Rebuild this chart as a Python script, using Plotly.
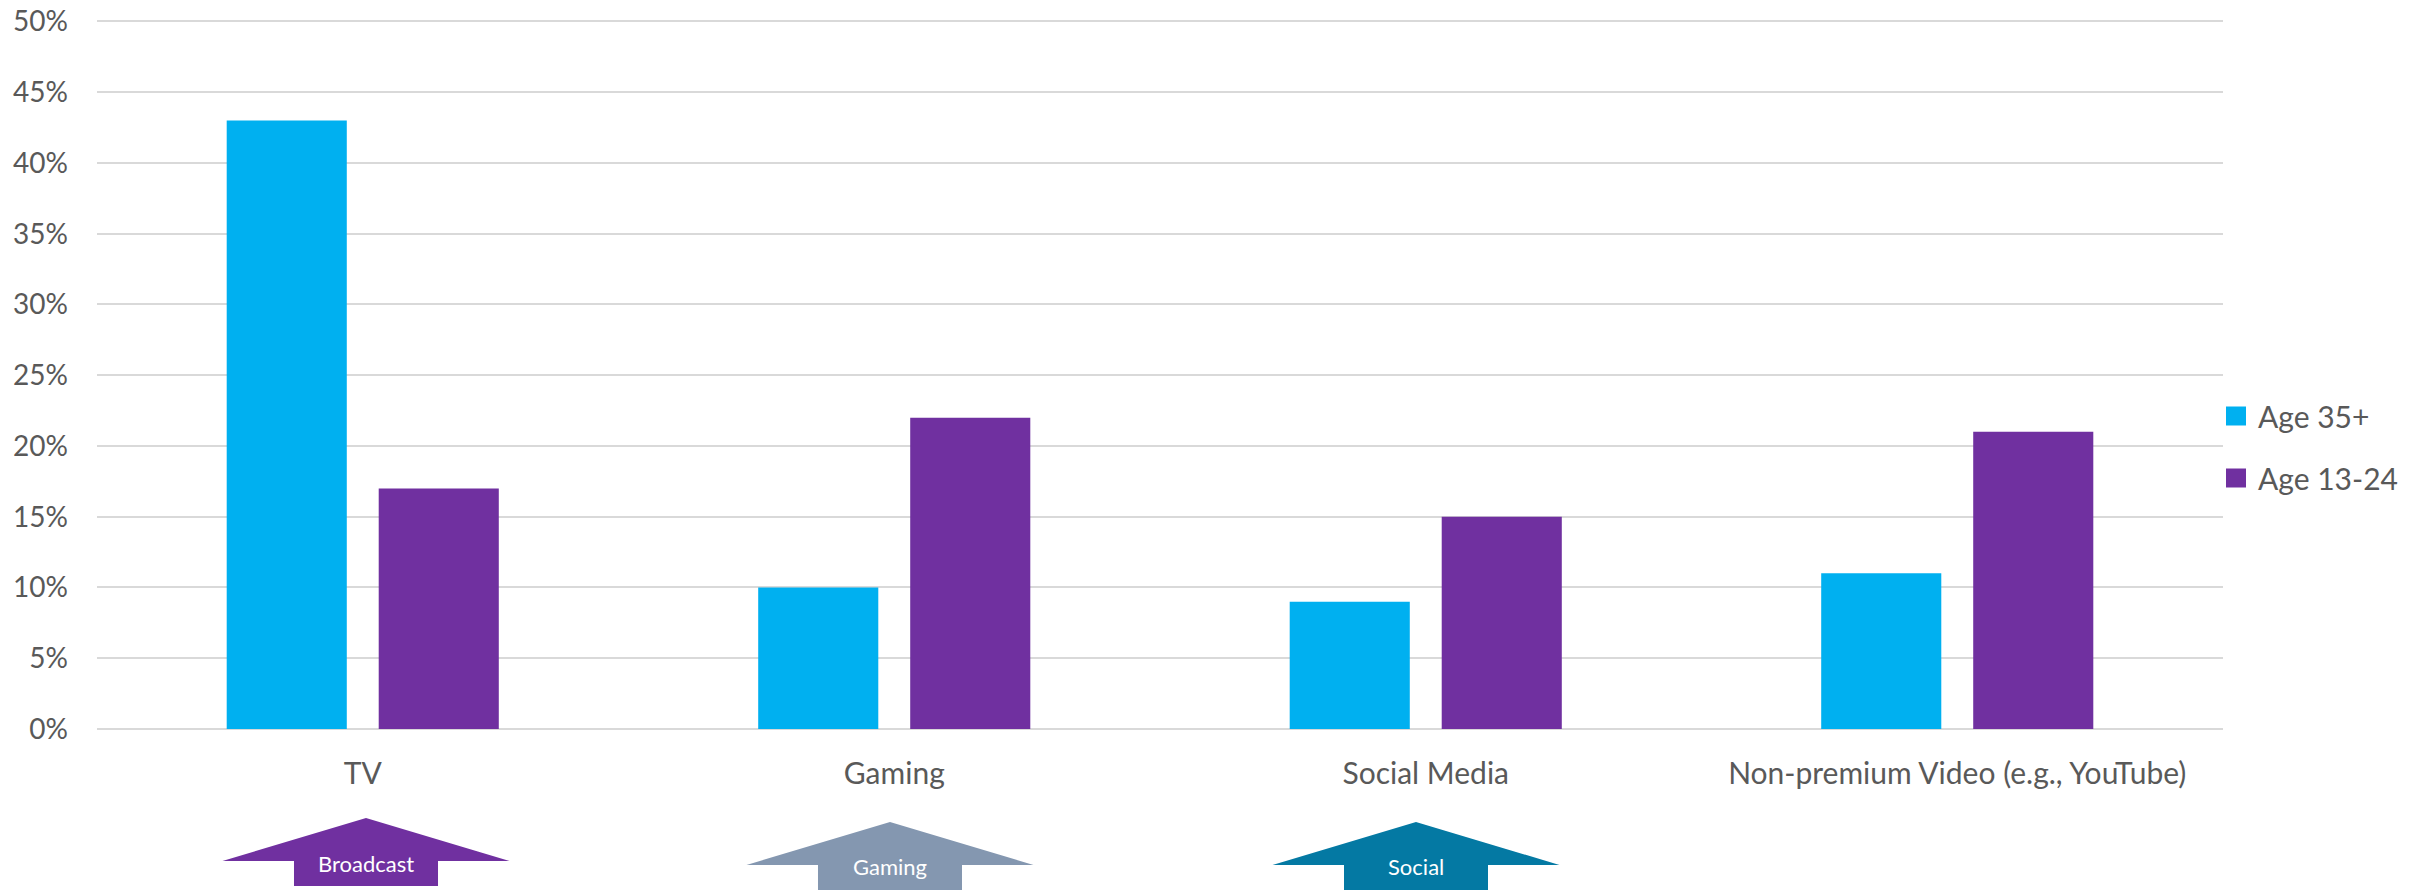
import plotly.graph_objects as go

# Data
categories = ["TV", "Gaming", "Social Media", "Non-premium Video (e.g., YouTube)"]
age_35_plus = [0.43, 0.10, 0.09, 0.11]
age_13_24 = [0.17, 0.22, 0.15, 0.21]
series_names = ["Age 35+", "Age 13-24"]
series_colors = ["#00B0F0", "#7030A0"]

arrow_labels = ["Broadcast", "Gaming", "Social"]
arrow_colors = ["#7030A0", "#8497B0", "#0479A3"]

# Canvas / plot-area geometry (pixels)
W, H = 2435, 890
ML, MR, MT, MB = 97, 212, 20, 161
PW, PH = W - ML - MR, H - MT - MB
Y_MAX = 0.501  # tiny headroom so the 50% gridline is drawn inside the plot
FONT = "Lato, 'Open Sans', sans-serif"
GREY = "#595959"


def px(x):
    return (x - ML) / PW


def py(y):
    return (H - MB - y) / PH


fig = go.Figure()
for name, vals, col in zip(series_names, [age_35_plus, age_13_24], series_colors):
    fig.add_trace(go.Bar(x=categories, y=vals, name=name, marker_color=col,
                         marker_line_width=0, showlegend=False))

shapes = []
annotations = []

# Legend drawn as colour squares with labels beside the plot
legend_rows = [416, 478]
for name, col, yc in zip(series_names, series_colors, legend_rows):
    shapes.append(dict(type="rect", xref="paper", yref="paper",
                       x0=px(2226), x1=px(2246), y0=py(yc - 9.5), y1=py(yc + 9.5),
                       fillcolor=col, line_width=0))
    annotations.append(dict(text=name, xref="paper", yref="paper",
                            x=px(2256), y=py(yc), xanchor="left", yanchor="middle",
                            showarrow=False, font=dict(family=FONT, size=30, color=GREY)))

# Up-arrow call-outs below the category axis
arrow_centers = [366, 890, 1416]
arrow_tips = [818, 822, 822]
half_w, half_shaft, head_h, total_h = 143.5, 72, 43, 68
for lab, col, cx, ty in zip(arrow_labels, arrow_colors, arrow_centers, arrow_tips):
    wy, by = ty + head_h, ty + total_h
    pts = [(cx - half_w, wy), (cx, ty), (cx + half_w, wy), (cx + half_shaft, wy),
           (cx + half_shaft, by), (cx - half_shaft, by), (cx - half_shaft, wy)]
    path = "M" + " L".join(f"{px(x):.5f},{py(y):.5f}" for x, y in pts) + " Z"
    shapes.append(dict(type="path", xref="paper", yref="paper", path=path,
                       fillcolor=col, line_width=0, layer="above"))
    annotations.append(dict(text=lab, xref="paper", yref="paper",
                            x=px(cx), y=py(ty + 45), xanchor="center", yanchor="middle",
                            showarrow=False, font=dict(family=FONT, size=22, color="white")))

fig.update_layout(
    width=W, height=H,
    margin=dict(l=ML, r=MR, t=MT, b=MB, pad=0, autoexpand=False),
    paper_bgcolor="white", plot_bgcolor="white",
    barmode="group", bargap=0.428, bargroupgap=0.21,
    font=dict(family=FONT, color=GREY),
    shapes=shapes, annotations=annotations,
    xaxis=dict(showgrid=False, showline=False, zeroline=False, ticks="",
               automargin=False,
               tickfont=dict(family=FONT, size=30, color=GREY),
               ticklabelstandoff=24, fixedrange=True),
    yaxis=dict(range=[0, Y_MAX], tickvals=[i * 0.05 for i in range(11)],
               tickformat=".0%", automargin=False,
               showgrid=True, gridcolor="#D9D9D9", gridwidth=2,
               zeroline=True, zerolinecolor="#D9D9D9", zerolinewidth=2,
               showline=False, ticks="",
               tickfont=dict(family=FONT, size=28, color=GREY),
               ticklabelstandoff=28, fixedrange=True),
)

fig.write_html("out.html", config={"displayModeBar": False})
